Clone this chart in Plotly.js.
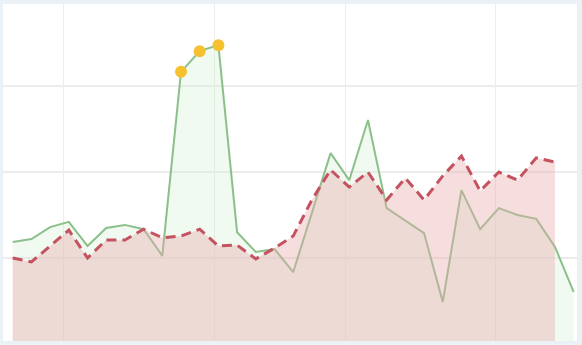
<!DOCTYPE html>
<html>
<head>
<meta charset="utf-8">
<script src="https://cdn.plot.ly/plotly-3.0.1.min.js"></script>
<style>html,body{margin:0;padding:0;background:#eaf2f8;}#chart{width:582px;height:345px;}</style>
</head>
<body>
<div id="chart"></div>
<script>
const xIdx = [0,1,2,3,4,5,6,7,8,9,10,11,12,13,14,15,16,17,18,19,20,21,22,23,24,25,26,27,28,29,30];
const greenVals = [23.7,24.4,27.2,28.4,22.8,27.0,27.7,26.7,20.5,63.3,68.1,69.5,26.0,21.4,22.1,16.7,30.5,44.4,38.1,52.1,31.6,28.6,25.8,9.8,35.8,26.7,31.6,30.0,29.1,22.6,12.1];
const redVals = [20.0,19.1,22.8,26.5,20.0,24.2,24.2,26.7,24.7,25.1,26.7,22.8,23.0,19.8,22.3,25.1,33.5,40.5,36.5,40.0,33.5,38.6,33.5,39.1,43.7,35.6,40.0,38.1,43.3,42.3];
const highlightIdx = [9,10,11];
const xGridVals = [2.7,10.8,17.8,25.8];

const traces = [
  {
    x: xIdx, y: greenVals, type: 'scatter', mode: 'lines',
    line: {color: '#8cc08a', width: 2},
    fill: 'tozeroy', fillcolor: 'rgba(210,240,210,0.32)',
    hoverinfo: 'skip'
  },
  {
    x: xIdx.slice(0, redVals.length), y: redVals, type: 'scatter', mode: 'lines',
    line: {color: '#c4525f', width: 3, dash: '10px,6px'},
    fill: 'tozeroy', fillcolor: 'rgba(232,170,172,0.4)',
    hoverinfo: 'skip'
  },
  {
    x: highlightIdx.map(i => xIdx[i]), y: highlightIdx.map(i => greenVals[i]),
    type: 'scatter', mode: 'markers',
    marker: {color: '#f6c12f', size: 12, line: {width: 0}},
    hoverinfo: 'skip'
  }
];

const layout = {
  width: 582, height: 345,
  margin: {l: 3, r: 5, t: 4, b: 4, pad: 0},
  paper_bgcolor: '#eaf2f8',
  plot_bgcolor: '#ffffff',
  showlegend: false,
  xaxis: {
    range: [-0.52, 30.18], tickvals: xGridVals, showticklabels: false,
    showgrid: true, gridcolor: '#ececec', gridwidth: 1.2, zeroline: false, showline: false, ticks: ''
  },
  yaxis: {
    range: [0.7, 79.07], tickvals: [20, 40, 60], showticklabels: false,
    showgrid: true, gridcolor: '#ececec', gridwidth: 1.2, zeroline: false, showline: false, ticks: ''
  }
};

Plotly.newPlot('chart', traces, layout, {displayModeBar: false, staticPlot: true});
</script>
</body>
</html>
